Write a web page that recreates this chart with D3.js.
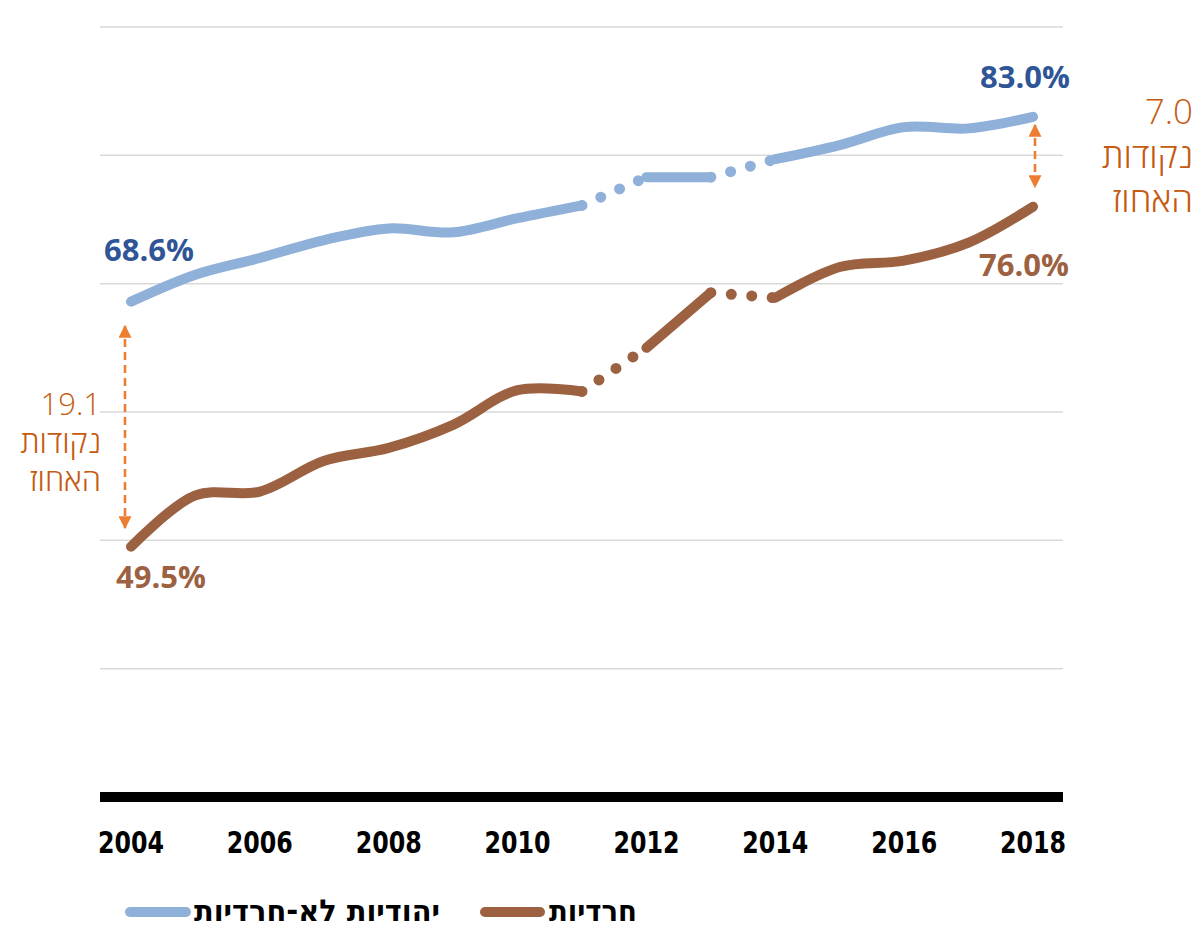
<!DOCTYPE html>
<html>
<head>
<meta charset="utf-8">
<title>Employment chart</title>
<script src="https://d3js.org/d3.v7.min.js"></script>
<style>
  body { margin: 0; background: #fff; }
</style>
</head>
<body>
<script type="text/javascript">
var width = 1199,
    height = 929;

var years = [2004, 2005, 2006, 2007, 2008, 2009, 2010, 2011, 2012, 2013, 2014, 2015, 2016, 2017, 2018];
var nonHaredi = [68.6, 70.7, 72.0, 73.4, 74.3, 74.0, 75.1, 76.1, 78.3, 78.3, 79.7, 80.8, 82.2, 82.1, 83.0];
var haredi = [49.5, 53.5, 53.8, 56.2, 57.2, 59.0, 61.7, 61.6, 65.0, 69.3, 68.9, 71.3, 71.8, 73.2, 76.0];
var tickYears = [2004, 2006, 2008, 2010, 2012, 2014, 2016, 2018];
var gridValues = [40, 50, 60, 70, 80, 90];
// gaps in the data drawn as dotted segments (index pairs)
var dottedPairs = [[7, 8], [9, 10]];
var solidRuns = [[0, 7], [8, 9], [10, 14]];
var seriesNames = ["יהודיות לא-חרדיות", "חרדיות"];
var gapStart = {value: "19.1", words: ["נקודות", "האחוז"]};
var gapEnd = {value: "7.0", words: ["נקודות", "האחוז"]};

var blue = "#8fb0d9", brown = "#9c6141", orange = "#ed7d31", orangeText = "#c55a11";

var svg = d3.select("body").append("svg")
    .attr("width", width)
    .attr("height", height);

var x = d3.scaleLinear().domain([2004, 2018]).range([131, 1033]);
var y = d3.scaleLinear().domain([30, 90]).range([797, 27]);

// grid
svg.append("g").selectAll("line")
    .data(gridValues)
    .enter().append("line")
    .attr("x1", 100).attr("x2", 1063)
    .attr("y1", function(d) { return y(d); })
    .attr("y2", function(d) { return y(d); })
    .attr("stroke", "#d9d9d9")
    .attr("stroke-width", 1.5);

// x axis
svg.append("line")
    .attr("x1", 100).attr("x2", 1063)
    .attr("y1", y(30)).attr("y2", y(30))
    .attr("stroke", "#000")
    .attr("stroke-width", 10);

svg.append("g").selectAll("text")
    .data(tickYears)
    .enter().append("text")
    .attr("x", function(d) { return x(d); })
    .attr("y", 853)
    .attr("text-anchor", "middle")
    .attr("font-family", "'DejaVu Sans Condensed', 'DejaVu Sans', sans-serif")
    .attr("font-weight", "bold")
    .attr("font-size", 31)
    .attr("textLength", 66)
    .attr("lengthAdjust", "spacingAndGlyphs")
    .text(function(d) { return d; });

var line = d3.line()
    .x(function(d) { return x(d[0]); })
    .y(function(d) { return y(d[1]); })
    .curve(d3.curveCatmullRom.alpha(0.5));

function drawSeries(values, color) {
  var pts = years.map(function(yr, i) { return [yr, values[i]]; });
  var g = svg.append("g");
  solidRuns.forEach(function(r) {
    g.append("path")
      .attr("d", line(pts.slice(r[0], r[1] + 1)))
      .attr("fill", "none")
      .attr("stroke", color)
      .attr("stroke-width", 10)
      .attr("stroke-linecap", "round");
  });
  dottedPairs.forEach(function(p) {
    g.append("path")
      .attr("d", d3.line().x(function(d) { return x(d[0]); }).y(function(d) { return y(d[1]); })([pts[p[0]], pts[p[1]]]))
      .attr("fill", "none")
      .attr("stroke", color)
      .attr("stroke-width", 11)
      .attr("stroke-linecap", "round")
      .attr("stroke-dasharray", "0 20.5");
  });
}
drawSeries(nonHaredi, blue);
drawSeries(haredi, brown);

// value labels
function valueLabel(txt, xx, yy, color) {
  svg.append("text")
    .attr("x", xx).attr("y", yy)
    .attr("text-anchor", "middle")
    .attr("font-family", "'Open Sans', sans-serif")
    .attr("font-weight", "bold")
    .attr("font-size", 31)
    .attr("fill", color)
    .text(txt);
}
valueLabel(nonHaredi[0].toFixed(1) + "%", x(2004) + 18, 261, "#2f5597");
valueLabel(haredi[0].toFixed(1) + "%", x(2004) + 30, 588, brown);
valueLabel(nonHaredi[14].toFixed(1) + "%", x(2018) - 8, 88, "#2f5597");
valueLabel(haredi[14].toFixed(1) + "%", x(2018) - 9, 276, brown);

// arrows
svg.append("defs").append("marker")
    .attr("id", "tri")
    .attr("viewBox", "0 0 10 10")
    .attr("refX", 9).attr("refY", 5)
    .attr("markerWidth", 5).attr("markerHeight", 5)
    .attr("markerUnits", "strokeWidth")
    .attr("orient", "auto-start-reverse")
    .append("path")
    .attr("d", "M0,0 L10,5 L0,10 Z")
    .attr("fill", orange);

function gapArrow(xx, y1, y2) {
  svg.append("line")
    .attr("x1", xx).attr("x2", xx)
    .attr("y1", y1).attr("y2", y2)
    .attr("stroke", orange)
    .attr("stroke-width", 2.6)
    .attr("stroke-dasharray", "8 5")
    .attr("marker-start", "url(#tri)")
    .attr("marker-end", "url(#tri)");
}
gapArrow(x(2004) - 6, 326, 528);
gapArrow(x(2018) + 2, 125, 187);

function gapText(g, xx, y0, size, step) {
  [g.value].concat(g.words).forEach(function(s, i) {
    svg.append("text")
      .attr("x", xx)
      .attr("y", y0 + i * step)
      .attr("text-anchor", "end")
      .attr("font-family", "'Open Sans', 'DejaVu Sans', sans-serif")
      .attr("font-weight", 300)
      .attr("font-size", size)
      .attr("fill", orangeText)
      .text(s);
  });
}
gapText(gapStart, 101, 415, 31, 38);
gapText(gapEnd, 1193, 124, 35, 44);

// legend
var legend = [{name: seriesNames[0], color: blue, x0: 130, x1: 186, tx: 440, w: 246},
              {name: seriesNames[1], color: brown, x0: 485, x1: 540, tx: 637, w: 88}];
legend.forEach(function(d) {
  svg.append("line")
    .attr("x1", d.x0).attr("x2", d.x1)
    .attr("y1", 912).attr("y2", 912)
    .attr("stroke", d.color)
    .attr("stroke-width", 10)
    .attr("stroke-linecap", "round");
  svg.append("text")
    .attr("x", d.tx).attr("y", 921)
    .attr("text-anchor", "end")
    .attr("font-family", "'DejaVu Sans Condensed', 'DejaVu Sans', sans-serif")
    .attr("font-weight", "bold")
    .attr("font-size", 30)
    .attr("textLength", d.w)
    .attr("lengthAdjust", "spacingAndGlyphs")
    .text(d.name);
});
</script>
</body>
</html>
